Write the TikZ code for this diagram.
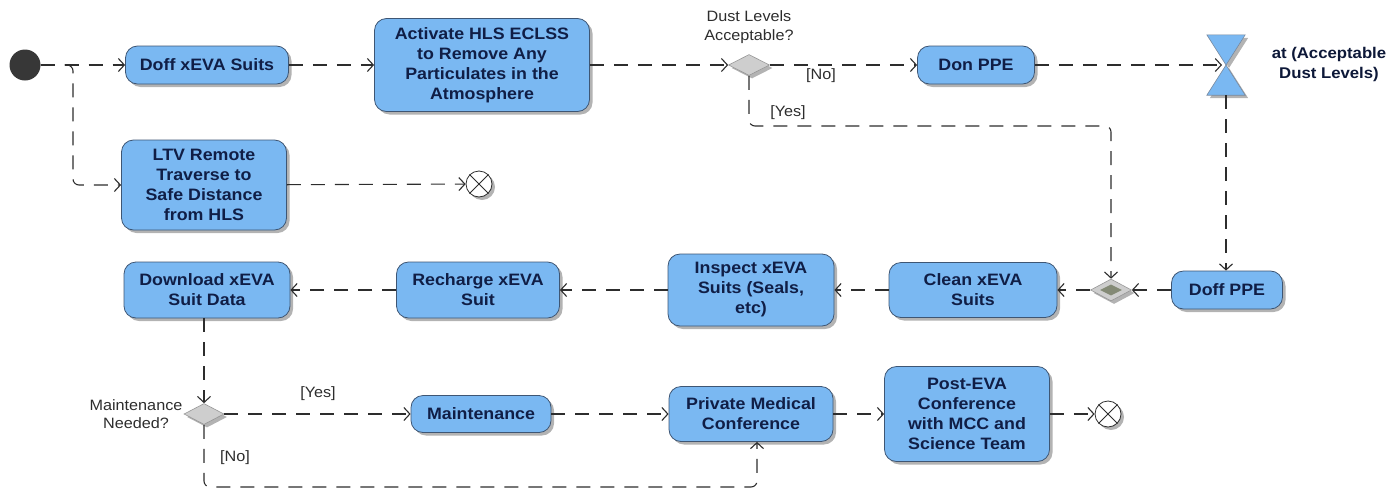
\documentclass[tikz,border=0pt]{standalone}
\usepackage{fontspec}
\setmainfont{Liberation Sans}[FakeStretch=1.08]
\usetikzlibrary{arrows.meta,shapes.geometric,shadows}

\definecolor{actfill}{RGB}{122,184,242}
\definecolor{actline}{RGB}{62,86,116}
\definecolor{acttext}{RGB}{16,30,70}
\definecolor{flowline}{RGB}{45,45,45}
\definecolor{labeltext}{RGB}{45,45,45}
\definecolor{decfill}{RGB}{206,206,206}
\definecolor{decline}{RGB}{150,150,150}
\definecolor{mergecore}{RGB}{132,138,118}
\definecolor{startfill}{RGB}{55,55,55}

\begin{document}
\begin{tikzpicture}[x=1pt,y=-1pt,
  sz/.style n args={2}{minimum width=#1pt, minimum height=#2pt},
  shade3/.style={drop shadow={shadow xshift=3pt, shadow yshift=-3pt, fill=black!50, opacity=0.6}},
  action/.style={draw=actline, line width=0.8pt, fill=actfill, rounded corners=12pt,
    align=center, text=acttext, inner sep=0pt, shade3,
    font=\fontsize{16.5}{20}\selectfont\bfseries},
  decision/.style={diamond, draw=decline, line width=0.6pt, fill=decfill, inner sep=0pt, shade3},
  endnode/.style={circle, draw=flowline, line width=0.8pt, fill=white, minimum size=26pt, inner sep=0pt, shade3},
  endx/.style={draw=flowline, line width=0.8pt},
  flow/.style={draw=flowline, line width=1.1pt, dash pattern=on 14pt off 10pt,
    -{Straight Barb[length=6pt,width=13pt]}},
  lbl/.style={text=labeltext, align=center, inner sep=0pt, font=\fontsize{15}{18.5}\selectfont},
  hglass/.style={draw=actline!70, line width=0.6pt, fill=actfill, shade3}
]
\useasboundingbox (0,0) rectangle (1399,490);

% ---------- first row ----------
\node[circle, fill=startfill, minimum size=31pt, inner sep=0pt] (start) at (25,65) {};
\node[action, sz={163}{38}] (doff) at (207,65) {Doff xEVA Suits};
\node[action, sz={215}{93}] (act) at (482,65) {Activate HLS ECLSS\\to Remove Any\\Particulates in the\\Atmosphere};
\node[decision, sz={41}{21}] (d1) at (749,65) {};
\node[lbl] (dustq) at (749,27) {Dust Levels\\Acceptable?};
\node[action, sz={117}{38}] (donppe) at (976,65) {Don PPE};
\node[minimum width=38pt, minimum height=60pt, inner sep=0pt] (hg) at (1226,65) {};
\draw[hglass] (hg.north west) -- (hg.north east) -- (hg.center) -- cycle;
\draw[hglass] (hg.south west) -- (hg.south east) -- (hg.center) -- cycle;
\node[lbl, font=\fontsize{15.5}{20}\selectfont\bfseries, text=acttext!80!black] (hgtext) at (1329,64) {at (Acceptable\\Dust Levels)};

% ---------- remote traverse ----------
\node[action, sz={165}{90}] (ltv) at (204,185) {LTV Remote\\Traverse to\\Safe Distance\\from HLS};
\node[endnode] (end1) at (479,184) {};
\draw[endx] (end1.45) -- (end1.225) (end1.135) -- (end1.315);

% ---------- second row ----------
\node[action, sz={111}{38}] (doffppe) at (1227,290) {Doff PPE};
\node[decision, sz={41}{22}] (merge) at (1111,290) {};
\node[diamond, fill=mergecore, sz={22}{11}, inner sep=0pt] (mergecore) at (merge) {};
\node[action, sz={168}{55}] (clean) at (973,290) {Clean xEVA\\Suits};
\node[action, sz={166}{72}] (inspect) at (751,290) {Inspect xEVA\\Suits (Seals,\\etc)};
\node[action, sz={163}{56}] (recharge) at (478,290) {Recharge xEVA\\Suit};
\node[action, sz={166}{56}] (download) at (207,290) {Download xEVA\\Suit Data};

% ---------- third row ----------
\node[decision, sz={40}{21}] (d2) at (204,414) {};
\node[lbl] (maintq) at (136,414) {Maintenance\\Needed?};
\node[action, sz={140}{37}] (maint) at (481,414) {Maintenance};
\node[action, sz={164}{55}] (priv) at (751,414) {Private Medical\\Conference};
\node[action, sz={165}{95}] (post) at (967,414) {Post-EVA\\Conference\\with MCC and\\Science Team};
\node[endnode] (end2) at (1108,414) {};
\draw[endx] (end2.45) -- (end2.225) (end2.135) -- (end2.315);

% ---------- guard labels ----------
\node[lbl] (no1) at (821,76) {[No]};
\node[lbl] (yes1) at (788,113) {[Yes]};
\node[lbl] (yes2) at (318,394) {[Yes]};
\node[lbl] (no2) at (235,458) {[No]};

% ---------- bend points ----------
\coordinate (split) at (73,65);
\coordinate (yesbend) at (1111,126);
\coordinate (nobend) at (757,487);

% ---------- control flows ----------
\draw[flow] (start) -- (doff);
\draw[flow, rounded corners=6pt] (start.east) -- (split) |- (ltv.west);
\draw[flow] (doff) -- (act);
\draw[flow] (act) -- (d1);
\draw[flow] (d1) -- (donppe);
\draw[flow] (donppe) -- ([xshift=-4pt]hg.center);
\draw[flow] (hg.south) -- (hg.south |- doffppe.north);
\draw[flow, rounded corners=6pt] (d1.south) |- (yesbend) -- (merge.north);
\draw[flow] (ltv) -- (end1);
\draw[flow] (doffppe) -- (merge);
\draw[flow] (merge) -- (clean);
\draw[flow] (clean) -- (inspect);
\draw[flow] (inspect) -- (recharge);
\draw[flow] (recharge) -- (download);
\draw[flow] (d2 |- download.south) -- (d2.north);
\draw[flow] (d2) -- (maint);
\draw[flow] (maint) -- (priv);
\draw[flow, rounded corners=6pt] (d2.south) |- (nobend) -- (nobend |- priv.south);
\draw[flow] (priv) -- (post);
\draw[flow] (post) -- (end2);
\end{tikzpicture}
\end{document}
